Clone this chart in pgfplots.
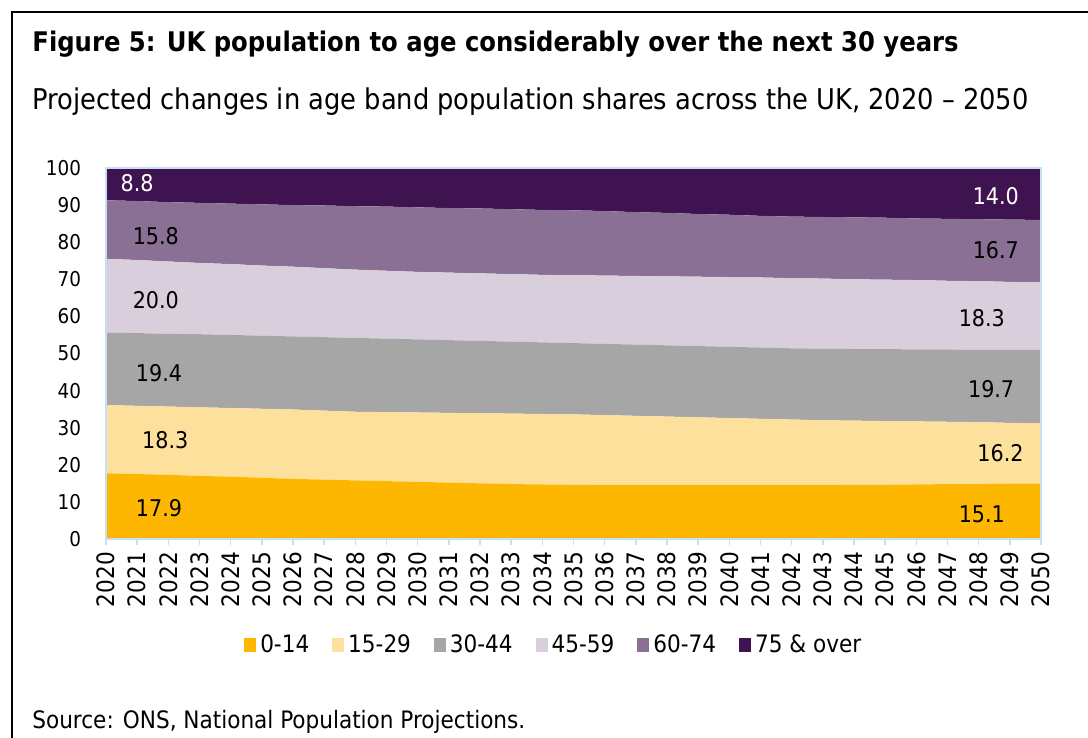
\documentclass[border=0pt]{standalone}
\usepackage{fontspec}
\setmainfont{DejaVu Sans Condensed}
\usepackage{pgfplots}
\pgfplotsset{compat=1.18}
\usepackage{pgfplotstable}
\definecolor{cA}{HTML}{FDB700}
\definecolor{cB}{HTML}{FDE09B}
\definecolor{cC}{HTML}{A6A6A6}
\definecolor{cD}{HTML}{D8CEDC}
\definecolor{cE}{HTML}{8B7096}
\definecolor{cF}{HTML}{3F1250}
\definecolor{axblue}{HTML}{C5E0F5}
\pgfplotstableread{
year a b c d e f
2020 17.7 18.4 19.5 19.9 15.8 8.7
2021 17.5 18.4 19.6 19.7 15.9 8.9
2022 17.3 18.4 19.6 19.5 16.0 9.2
2023 17.0 18.5 19.7 19.2 16.2 9.4
2024 16.8 18.5 19.7 19.1 16.3 9.6
2025 16.5 18.6 19.7 18.9 16.5 9.8
2026 16.2 18.7 19.7 18.8 16.6 10.0
2027 16.0 18.6 19.8 18.6 16.9 10.1
2028 15.8 18.5 19.9 18.4 17.1 10.3
2029 15.6 18.6 19.8 18.3 17.3 10.4
2030 15.4 18.7 19.7 18.2 17.4 10.6
2031 15.2 18.8 19.6 18.2 17.4 10.8
2032 15.0 18.9 19.5 18.2 17.5 10.9
2033 14.8 19.0 19.4 18.2 17.5 11.1
2034 14.7 19.0 19.3 18.2 17.5 11.3
2035 14.6 19.0 19.2 18.3 17.5 11.4
2036 14.5 18.9 19.2 18.4 17.4 11.6
2037 14.5 18.7 19.2 18.5 17.2 11.9
2038 14.5 18.5 19.2 18.6 17.1 12.1
2039 14.5 18.3 19.2 18.7 16.9 12.4
2040 14.5 18.1 19.2 18.8 16.8 12.6
2041 14.5 17.9 19.2 18.9 16.6 12.9
2042 14.5 17.7 19.2 18.9 16.6 13.1
2043 14.5 17.5 19.3 18.9 16.6 13.2
2044 14.6 17.3 19.3 18.8 16.7 13.3
2045 14.6 17.2 19.4 18.7 16.7 13.4
2046 14.7 17.0 19.4 18.7 16.6 13.6
2047 14.8 16.8 19.5 18.5 16.7 13.7
2048 14.8 16.7 19.5 18.5 16.7 13.8
2049 14.9 16.4 19.7 18.3 16.8 13.9
2050 14.9 16.3 19.8 18.2 16.8 14.0
}\popdata
\begin{document}
\begin{tikzpicture}
\path[use as bounding box] (0,0) rectangle (544pt,-369pt);
\draw[line width=1pt] (6pt,-369pt) -- (6pt,-6pt) -- (544pt,-6pt);
\node[anchor=base west, inner sep=0pt, font=\bfseries\fontsize{13.5}{15}\selectfont] at (16pt,-26pt) {Figure 5: UK population to age considerably over the next 30 years};
\node[anchor=base west, inner sep=0pt, font=\fontsize{14.3}{16}\selectfont] at (16pt,-55pt) {Projected changes in age band population shares across the UK, 2020 – 2050};
\node[anchor=base west, inner sep=0pt, font=\fontsize{12}{14}\selectfont] at (16pt,-364pt) {Source: ONS, National Population Projections.};
\begin{axis}[
  at={(53pt,-269.5pt)}, anchor=south west,
  width=467.5pt, height=185.5pt, scale only axis,
  xmin=2020, xmax=2050, ymin=0, ymax=100,
  stack plots=y,
  axis line style={draw=axblue, line width=0.8pt},
  xtick={2020,2021,...,2050},
  ytick={0,10,...,100},
  xtick pos=left, ytick pos=left,
  tick align=outside,
  x tick style={draw=axblue, line width=0.8pt},
  major tick length=3pt,
  y tick style={draw=none},
  /pgf/number format/assume math mode=true,
  /pgf/number format/set thousands separator={},
  x tick label style={rotate=90, anchor=east, font=\fontsize{12}{13}\selectfont},
  y tick label style={font=\fontsize{10.2}{12}\selectfont},
  yticklabel shift=6pt,
  legend columns=6,
  legend style={draw=none, at={(0.48,-0.286)}, anchor=center, font=\fontsize{12}{14}\selectfont,
    /tikz/every even column/.append style={column sep=9.5pt}},
  legend image code/.code={\fill[#1] (0pt,-3.5pt) rectangle (6pt,3.5pt);},
]
\addplot[fill=cA, draw=none] table[x=year, y=a] {\popdata} \closedcycle;
\addplot[fill=cB, draw=none] table[x=year, y=b] {\popdata} \closedcycle;
\addplot[fill=cC, draw=none] table[x=year, y=c] {\popdata} \closedcycle;
\addplot[fill=cD, draw=none] table[x=year, y=d] {\popdata} \closedcycle;
\addplot[fill=cE, draw=none] table[x=year, y=e] {\popdata} \closedcycle;
\addplot[fill=cF, draw=none] table[x=year, y=f] {\popdata} \closedcycle;
\legend{0-14,15-29,30-44,45-59,60-74,75 \& over}
\coordinate (SW) at (rel axis cs:0,0);
\coordinate (NE) at (rel axis cs:1,1);
\coordinate (L1) at (axis cs:2021.0,96.0);
\coordinate (L2) at (axis cs:2021.6,81.7);
\coordinate (L3) at (axis cs:2021.6,64.4);
\coordinate (L4) at (axis cs:2021.7,44.7);
\coordinate (L5) at (axis cs:2021.9,26.7);
\coordinate (L6) at (axis cs:2021.7,8.4);
\coordinate (R1) at (axis cs:2048.55,92.5);
\coordinate (R2) at (axis cs:2048.55,77.9);
\coordinate (R3) at (axis cs:2048.1,59.6);
\coordinate (R4) at (axis cs:2048.4,40.4);
\coordinate (R5) at (axis cs:2048.7,23.2);
\coordinate (R6) at (axis cs:2048.1,6.7);
\end{axis}
\draw[axblue, line width=0.8pt] (SW) rectangle (NE);
\begin{scope}[every node/.style={font=\fontsize{11.5}{13}\selectfont}]
\node[text=white] at (L1) {8.8};
\node at (L2) {15.8};
\node at (L3) {20.0};
\node at (L4) {19.4};
\node at (L5) {18.3};
\node at (L6) {17.9};
\node[text=white] at (R1) {14.0};
\node at (R2) {16.7};
\node at (R3) {18.3};
\node at (R4) {19.7};
\node at (R5) {16.2};
\node at (R6) {15.1};
\end{scope}
\end{tikzpicture}
\end{document}
